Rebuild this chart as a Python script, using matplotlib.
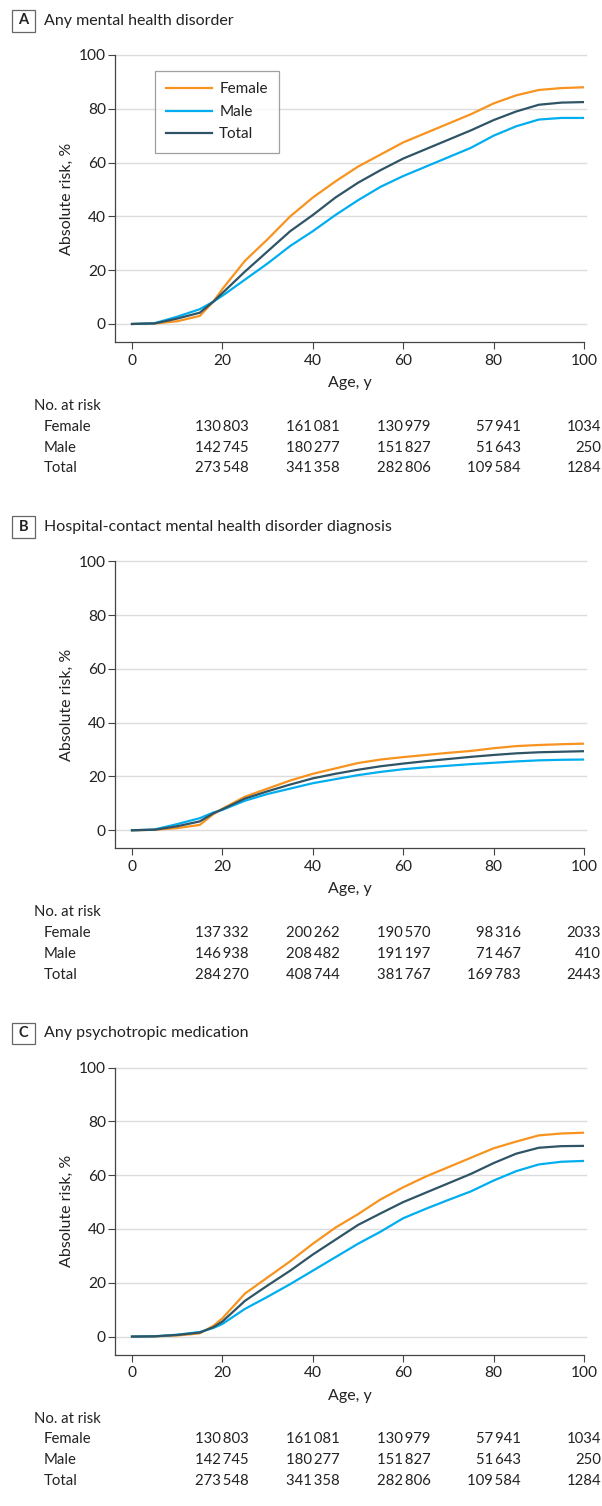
import matplotlib
matplotlib.use("Agg")
import matplotlib.pyplot as plt
from matplotlib.patches import Rectangle
from matplotlib import font_manager

# ---------------- data ----------------
ages = [0, 5, 10, 15, 18, 20, 25, 30, 35, 40, 45, 50, 55, 60, 65, 70, 75, 80, 85, 90, 95, 100]

a_female = [0, 0.2, 1.0, 3.0, 8.3, 13, 23.5, 31.5, 40.0, 47, 53, 58.5, 63, 67.5, 71, 74.5, 78, 82, 85, 87, 87.7, 88]
a_total = [0, 0.2, 2.0, 4.2, 8.3, 11.5, 19.5, 27, 34.5, 40.5, 47, 52.5, 57.2, 61.5, 65, 68.5, 72, 75.8, 79, 81.5, 82.3, 82.5]
a_male = [0, 0.3, 2.7, 5.5, 8.3, 10.5, 16.5, 22.5, 29, 34.5, 40.5, 46, 51, 55, 58.5, 62, 65.5, 70, 73.5, 76, 76.6, 76.6]

b_female = [0, 0.2, 0.8, 2.0, 6.0, 8.0, 12.5, 15.5, 18.5, 21, 23, 25, 26.3, 27.2, 28, 28.8, 29.5, 30.5, 31.3, 31.7, 32, 32.2]
b_total = [0, 0.2, 1.5, 3.3, 6.3, 7.8, 11.8, 14.5, 17, 19.3, 21, 22.5, 23.8, 24.8, 25.7, 26.5, 27.3, 28, 28.6, 29, 29.2, 29.4]
b_male = [0, 0.3, 2.3, 4.5, 6.6, 7.6, 11, 13.5, 15.5, 17.5, 19, 20.5, 21.7, 22.7, 23.4, 24, 24.6, 25.1, 25.6, 26, 26.2, 26.3]

c_female = [0, 0.1, 0.4, 1.2, 4.0, 6.8, 16.0, 22, 28, 34.5, 40.5, 45.5, 51, 55.5, 59.5, 63, 66.5, 70, 72.5, 74.8, 75.5, 75.8]
c_total = [0, 0.1, 0.6, 1.5, 3.5, 5.6, 13.3, 19, 24.5, 30.5, 36, 41.5, 45.8, 50, 53.5, 57, 60.5, 64.5, 68, 70.2, 70.8, 70.9]
c_male = [0, 0.1, 0.7, 1.7, 3.2, 4.7, 10.3, 14.8, 19.5, 24.5, 29.5, 34.5, 39, 44, 47.5, 50.8, 54, 58, 61.5, 64, 65, 65.3]

panel_letters = ["A", "B", "C"]
panel_titles = ["Any mental health disorder",
                "Hospital-contact mental health disorder diagnosis",
                "Any psychotropic medication"]
series_names = ["Female", "Male", "Total"]

x_ticks = [0, 20, 40, 60, 80, 100]
y_ticks = [0, 20, 40, 60, 80, 100]

risk_a_female = [130803, 161081, 130979, 57941, 1034]
risk_a_male = [142745, 180277, 151827, 51643, 250]
risk_a_total = [273548, 341358, 282806, 109584, 1284]
risk_b_female = [137332, 200262, 190570, 98316, 2033]
risk_b_male = [146938, 208482, 191197, 71467, 410]
risk_b_total = [284270, 408744, 381767, 169783, 2443]
risk_c_female = [130803, 161081, 130979, 57941, 1034]
risk_c_male = [142745, 180277, 151827, 51643, 250]
risk_c_total = [273548, 341358, 282806, 109584, 1284]

# ---------------- style ----------------
avail = {f.name for f in font_manager.fontManager.ttflist}
main_font = "Lato" if "Lato" in avail else "Liberation Sans"
plt.rcParams["font.family"] = [main_font, "DejaVu Sans"]

C_F = "#F7931E"
C_M = "#00AEEF"
C_T = "#2E5466"
TXT = "#222222"

W, H = 602, 1506
fig = plt.figure(figsize=(W / 100, H / 100), dpi=100)


def fx(px):
    return px / W


def fy(py):
    return 1 - py / H


def fmt(n):
    if n < 10000:
        return str(n)
    return f"{n:,}".replace(",", "\u2009")


panels = [
    (a_female, a_male, a_total, risk_a_female, risk_a_male, risk_a_total),
    (b_female, b_male, b_total, risk_b_female, risk_b_male, risk_b_total),
    (c_female, c_male, c_total, risk_c_female, risk_c_male, risk_c_total),
]

step = 506.3
col_right = [249, 340, 430.5, 521, 601]
FS = 10.7

for i, (yf, ym, yt, rf, rm, rt) in enumerate(panels):
    off = i * step
    top = 55 + off
    bot = 342 + off
    ax = fig.add_axes([fx(115), fy(bot), fx(584) - fx(115), (bot - top) / H])
    ax.set_xlim(-3.76, 100)
    ax.set_ylim(-6.7, 100)
    for y in y_ticks:
        ax.plot([-3.76, 100.4], [y, y], color="#DCDCDC", lw=1.0, zorder=0, clip_on=False)
    ax.plot(ages, yf, color=C_F, lw=1.6, label=series_names[0], solid_joinstyle="round")
    ax.plot(ages, ym, color=C_M, lw=1.6, label=series_names[1], solid_joinstyle="round")
    ax.plot(ages, yt, color=C_T, lw=1.6, label=series_names[2], solid_joinstyle="round")

    for s in ["top", "right"]:
        ax.spines[s].set_visible(False)
    for s in ["left", "bottom"]:
        ax.spines[s].set_color("#444444")
        ax.spines[s].set_linewidth(0.9)
    ax.set_xticks(x_ticks)
    ax.set_yticks(y_ticks)
    ax.tick_params(axis="both", direction="out", length=5, width=0.8, color="#444444",
                   labelsize=11.2, labelcolor=TXT)
    ax.tick_params(axis="y", pad=1.5)
    ax.tick_params(axis="x", pad=3.5)
    ax.set_xlabel("Age, y", fontsize=11.5, color=TXT, labelpad=6)
    ax.set_ylabel("Absolute risk, %", fontsize=11.5, color=TXT, labelpad=4)

    if i == 0:
        leg = ax.legend(loc="upper left", bbox_to_anchor=((155 - 115) / 469, 1 - (71 - 55) / 287),
                        frameon=True, fancybox=False, fontsize=11, handlelength=3.0,
                        handletextpad=0.45, borderpad=0.75, labelspacing=0.55,
                        borderaxespad=0)
        leg.get_frame().set_edgecolor("#888888")
        leg.get_frame().set_linewidth(0.9)
        for t in leg.get_texts():
            t.set_color(TXT)

    # panel label box and title
    ty = 20.5 + off
    fig.patches.append(Rectangle((fx(12), fy(31.5 + off)), fx(35) - fx(12), (21.5) / H,
                                 transform=fig.transFigure, fill=False,
                                 edgecolor="#666666", lw=0.9))
    fig.text(fx(23.5), fy(ty), panel_letters[i], ha="center", va="center",
             fontsize=10.5, fontweight="bold", color=TXT)
    fig.text(fx(44), fy(ty), panel_titles[i], ha="left", va="center",
             fontsize=11.5, color=TXT)

    # number at risk table
    fig.text(fx(34.5), fy(406 + off), "No. at risk", ha="left", va="center",
             fontsize=FS, color=TXT)
    for j, (name, vals) in enumerate(zip(series_names, [rf, rm, rt])):
        yy = 426.7 + j * 20.8 + off
        fig.text(fx(44), fy(yy), name, ha="left", va="center", fontsize=FS, color=TXT)
        for k, v in enumerate(vals):
            fig.text(fx(col_right[k]), fy(yy), fmt(v), ha="right", va="center",
                     fontsize=FS, color=TXT)

fig.savefig("out.png", dpi=100)
